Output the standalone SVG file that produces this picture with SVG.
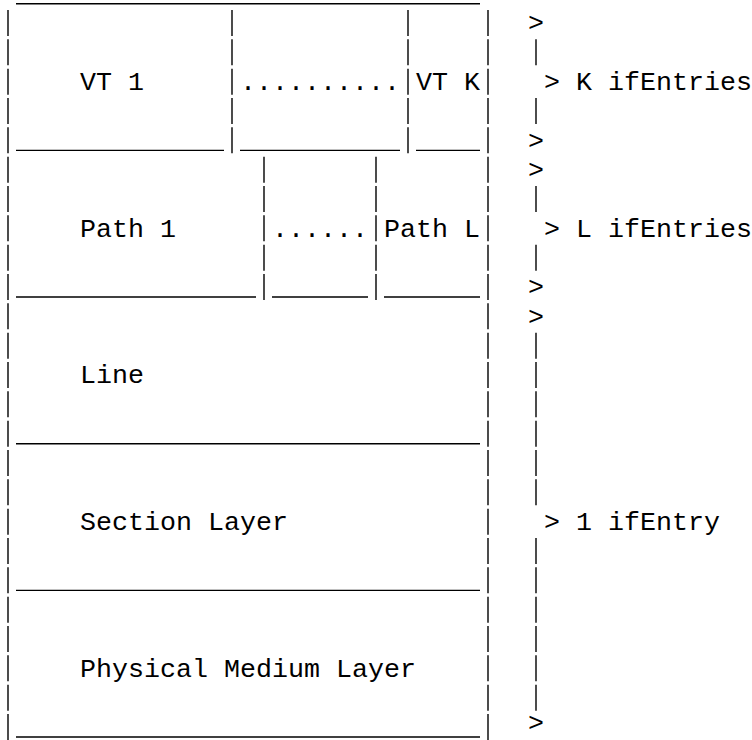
<svg xmlns="http://www.w3.org/2000/svg" width="752" height="740" viewBox="0 0 752 740">
<style>
  text { font-family: "Liberation Mono", "Courier New", monospace; font-size: 26.667px; fill: #000; white-space: pre; }
  .bar { stroke: #000; stroke-width: 1.4; stroke-dasharray: 26 3.333; fill: none; }
  .us { stroke: #000; stroke-width: 1.4; fill: none; }
</style>
<rect width="752" height="740" fill="#fff"/>
<g id="frame">
  <!-- outer verticals, lines 1-25 -->
  <line class="bar" x1="8" y1="10" x2="8" y2="740"/>
  <line class="bar" x1="488" y1="10" x2="488" y2="740"/>
  <!-- VT row dividers, lines 1-5 -->
  <line class="bar" x1="232" y1="10" x2="232" y2="153.3"/>
  <line class="bar" x1="408" y1="10" x2="408" y2="153.3"/>
  <!-- Path row dividers, lines 6-10 -->
  <line class="bar" x1="264" y1="156.7" x2="264" y2="300"/>
  <line class="bar" x1="376" y1="156.7" x2="376" y2="300"/>
  <!-- underscores -->
  <line class="us" x1="16" y1="3.7" x2="480" y2="3.7"/>
  <line class="us" x1="16" y1="150.4" x2="224" y2="150.4"/>
  <line class="us" x1="240" y1="150.4" x2="400" y2="150.4"/>
  <line class="us" x1="416" y1="150.4" x2="480" y2="150.4"/>
  <line class="us" x1="16" y1="297" x2="256" y2="297"/>
  <line class="us" x1="272" y1="297" x2="368" y2="297"/>
  <line class="us" x1="384" y1="297" x2="480" y2="297"/>
  <line class="us" x1="16" y1="443.7" x2="480" y2="443.7"/>
  <line class="us" x1="16" y1="590.4" x2="480" y2="590.4"/>
  <line class="us" x1="16" y1="737" x2="480" y2="737"/>
</g>
<g id="vt1"><text x="80" y="90">VT 1</text></g>
<g id="vt-dots"><text x="240" y="90">..........</text></g>
<g id="vtk"><text x="416" y="90">VT K</text></g>
<g id="path1"><text x="80" y="236.7">Path 1</text></g>
<g id="path-dots"><text x="272" y="236.7">......</text></g>
<g id="pathl"><text x="384" y="236.7">Path L</text></g>
<g id="line"><text x="80" y="383.3">Line</text></g>
<g id="section"><text x="80" y="530">Section Layer</text></g>
<g id="physical"><text x="80" y="676.7">Physical Medium Layer</text></g>
<g id="connectors">
  <!-- K ifEntries brace: lines 1-5 -->
  <text x="528" y="31.3">&gt;</text>
  <line class="bar" x1="536" y1="39.3" x2="536" y2="65.3"/>
  <text x="544" y="90">&gt; K ifEntries</text>
  <line class="bar" x1="536" y1="98" x2="536" y2="124"/>
  <text x="528" y="148.7">&gt;</text>
  <!-- L ifEntries brace: lines 6-10 -->
  <text x="528" y="178">&gt;</text>
  <line class="bar" x1="536" y1="186" x2="536" y2="212"/>
  <text x="544" y="236.7">&gt; L ifEntries</text>
  <line class="bar" x1="536" y1="244.7" x2="536" y2="270.7"/>
  <text x="528" y="295.3">&gt;</text>
  <!-- 1 ifEntry brace: lines 11-25 -->
  <text x="528" y="324.7">&gt;</text>
  <line class="bar" x1="536" y1="332.7" x2="536" y2="505.3"/>
  <text x="544" y="530">&gt; 1 ifEntry</text>
  <line class="bar" x1="536" y1="538" x2="536" y2="710.7"/>
  <text x="528" y="731">&gt;</text>
</g>
</svg>
